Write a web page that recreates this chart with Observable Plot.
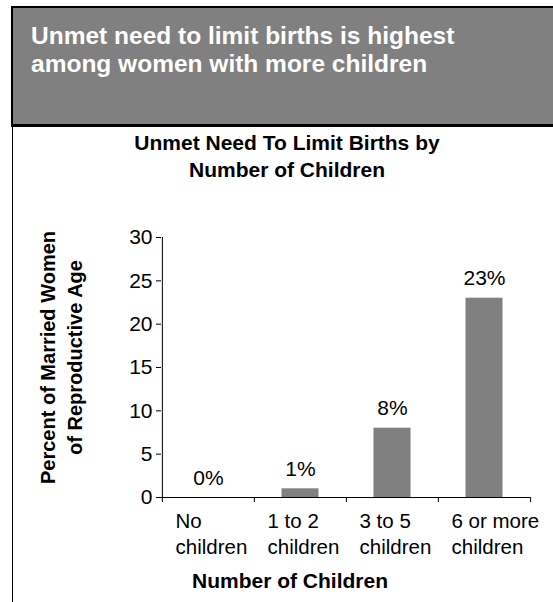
<!DOCTYPE html>
<html>
<head>
<meta charset="utf-8">
<script src="https://cdn.jsdelivr.net/npm/d3@7"></script>
<script src="https://cdn.jsdelivr.net/npm/@observablehq/plot@0.6"></script>
<style>
  html, body { margin: 0; padding: 0; background: #fff; overflow: hidden; }
  #page { position: relative; width: 553px; height: 602px; font-family: Arial, "Liberation Sans", sans-serif; color: #000; }
  #banner { position: absolute; left: 11px; top: 6px; width: 560px; height: 116px; background: #808080;
            border: 2px solid #000; border-bottom-width: 3px; }
  #headline { position: absolute; left: 31px; top: 22px; color: #fff; font-weight: bold; font-size: 24.5px; line-height: 28px; white-space: nowrap; }
  #leftrule { position: absolute; left: 12px; top: 127px; width: 1px; height: 475px; background: #000; }
  #chart-title { position: absolute; left: 21px; width: 532px; top: 129px; text-align: center; font-weight: bold; font-size: 21px; line-height: 27px; }
  #plot { position: absolute; left: 0; top: 190px; }
</style>
</head>
<body>
<div id="page">
  <div id="banner"></div>
  <div id="headline">Unmet need to limit births is highest<br>among women with more children</div>
  <div id="leftrule"></div>
  <div id="chart-title">Unmet Need To Limit Births by<br>Number of Children</div>
  <div id="plot"></div>
</div>
<script>
// Number-of-children groups and the share of married women with unmet need to limit births
const categories = ["No\nchildren", "1 to 2\nchildren", "3 to 5\nchildren", "6 or more\nchildren"];
const percents = [0, 1, 8, 23];
const valueLabels = ["0%", "1%", "8%", "23%"];
const yTicks = [0, 5, 10, 15, 20, 25, 30];
const yDomain = [0, 30];
const yTitle = "Percent of Married Women\nof Reproductive Age";
const xTitle = "Number of Children";

const rows = categories.map((category, i) => ({category, value: percents[i], label: valueLabels[i]}));

const W = 553, H = 412;
const mL = 161, mR = 23, mT = 47, mB = 105;
const step = (W - mL - mR) / categories.length;
const font = 'Arial, "Liberation Sans", sans-serif';

const chart = Plot.plot({
  width: W,
  height: H,
  marginLeft: mL,
  marginRight: mR,
  marginTop: mT,
  marginBottom: mB,
  style: {fontFamily: font, fontSize: "20px", color: "#000", background: "transparent", overflow: "visible"},
  x: {domain: categories, padding: 0, axis: null},
  y: {domain: yDomain},
  marks: [
    Plot.barY(rows, {x: "category", y: "value", fill: "#808080", insetLeft: 27.5, insetRight: 27.5}),
    Plot.axisY({ticks: yTicks, tickSize: 5, tickPadding: 4, fontSize: 21, label: null}),
    // vertical axis line along the left edge of the first band
    Plot.ruleX([categories[0]], {dx: -step / 2, y1: yDomain[0], y2: yDomain[1], stroke: "#000"}),
    // baseline
    Plot.ruleY([0], {stroke: "#000"}),
    // tick marks at the band boundaries
    Plot.ruleX(categories, {dx: -step / 2, y1: 0, y2: 0, insetBottom: -5, stroke: "#000"}),
    Plot.ruleX([categories[categories.length - 1]], {dx: step / 2, y1: 0, y2: 0, insetBottom: -5, stroke: "#000"}),
    // value labels above the bars
    Plot.text(rows, {x: "category", y: "value", text: "label", lineAnchor: "bottom", dy: -13, fontSize: 21}),
    // category labels under the axis
    Plot.text(rows, {x: "category", text: "category", frameAnchor: "bottom", lineAnchor: "top",
                     textAnchor: "start", dx: -33, dy: 12, fontSize: 20.5, lineHeight: 1.27}),
    // axis titles
    Plot.text([yTitle], {text: d => d, frameAnchor: "left", textAnchor: "middle", lineAnchor: "middle",
                         rotate: -90, dx: -101.5, dy: -10, fontWeight: "bold", fontSize: 20, lineHeight: 1.35}),
    Plot.text([xTitle], {text: d => d, frameAnchor: "bottom", textAnchor: "middle", lineAnchor: "bottom",
                         dx: -56, dy: 90, fontWeight: "bold", fontSize: 21})
  ]
});

document.getElementById("plot").appendChild(chart);
</script>
</body>
</html>
